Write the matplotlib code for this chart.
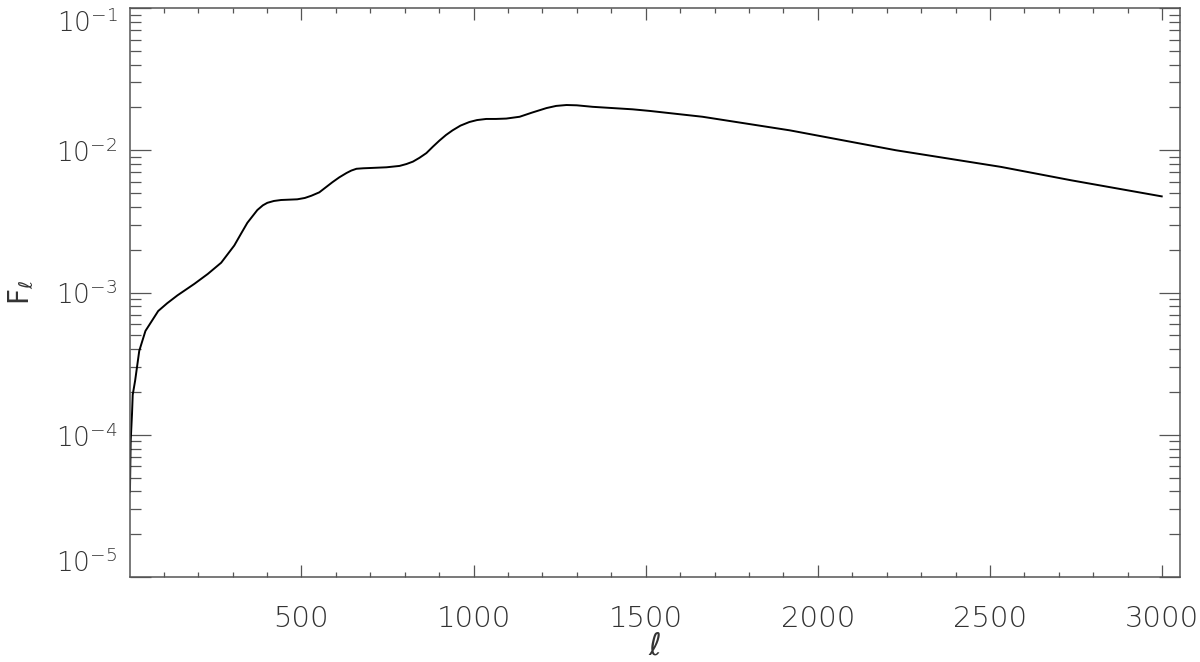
import matplotlib
matplotlib.use("Agg")
import matplotlib.pyplot as plt
from matplotlib.ticker import MultipleLocator, FixedLocator, LogLocator, NullFormatter

# multipole and F_l values
ell = [2, 4, 8, 10, 17, 29, 47, 84, 110, 140, 189, 228, 267, 305, 325, 343,
       372, 388, 401, 420, 441, 488, 510, 529, 552, 590, 610, 631, 645, 660,
       680, 698, 747, 785, 805, 824, 843, 863, 882, 901, 920, 939, 962, 988,
       1010, 1037, 1065, 1095, 1134, 1170, 1212, 1240, 1270, 1300, 1346, 1462,
       1512, 1665, 1919, 2227, 2532, 2736, 2999]
F_ell = [3.98e-5, 8.91e-5, 1.41e-4, 1.91e-4, 2.40e-4, 3.89e-4, 5.37e-4, 7.41e-4,
         8.40e-4, 9.55e-4, 1.15e-3, 1.35e-3, 1.62e-3, 2.14e-3, 2.60e-3, 3.09e-3,
         3.80e-3, 4.10e-3, 4.27e-3, 4.40e-3, 4.47e-3, 4.52e-3, 4.62e-3, 4.79e-3,
         5.06e-3, 5.96e-3, 6.45e-3, 6.92e-3, 7.20e-3, 7.41e-3,
         7.47e-3, 7.50e-3, 7.59e-3, 7.76e-3, 8.00e-3, 8.32e-3, 8.85e-3, 9.55e-3,
         1.06e-2, 1.17e-2, 1.28e-2, 1.38e-2, 1.49e-2, 1.58e-2,
         1.63e-2, 1.66e-2, 1.66e-2, 1.67e-2, 1.72e-2, 1.84e-2, 1.98e-2, 2.05e-2,
         2.08e-2, 2.07e-2, 2.02e-2, 1.94e-2,
         1.89e-2, 1.72e-2, 1.38e-2, 1.00e-2, 7.64e-3, 6.15e-3, 4.74e-3]

y_decades = [1e-5, 1e-4, 1e-3, 1e-2, 1e-1]

axis_col = "#555555"
text_col = "#333333"

plt.rcParams['font.family'] = ['DejaVu Sans']
plt.rcParams['font.weight'] = 'light'

fig = plt.figure(figsize=(12, 6.62), dpi=100)
ax = fig.add_axes([0.1083, 0.1284, 0.875, 0.8595])

ax.plot(ell, F_ell, color="black", lw=1.4)

ax.set_yscale("log")
ax.set_xlim(2, 3052)
ax.set_ylim(1e-5, 1e-1)

ax.xaxis.set_major_locator(MultipleLocator(500))
ax.xaxis.set_minor_locator(MultipleLocator(100))
ax.yaxis.set_major_locator(FixedLocator(y_decades))
ax.yaxis.set_minor_locator(LogLocator(base=10, subs=range(2, 10)))
ax.yaxis.set_minor_formatter(NullFormatter())

ax.tick_params(which="both", direction="in", top=True, right=True,
               color=axis_col, width=0.9, labelcolor=text_col)
ax.tick_params(axis="x", which="major", length=8.6, labelsize=21, pad=20)
ax.tick_params(axis="x", which="minor", length=3.8)
ax.tick_params(axis="y", which="major", length=15, labelsize=19, pad=9)
ax.tick_params(axis="y", which="minor", length=8)

for s in ax.spines.values():
    s.set_color(axis_col)
    s.set_linewidth(1.1)

ax.set_xlabel(r"$\ell$", fontsize=22, color=text_col, labelpad=-1)
ax.set_ylabel(r"F$_\ell$", fontsize=20, color=text_col, labelpad=14)

# keep the end labels inside the frame, as in the original
yticks = ax.yaxis.get_major_ticks()
yticks[0].label1.set_va("bottom")
yticks[-1].label1.set_va("top")

fig.savefig("out.png", dpi=100)
